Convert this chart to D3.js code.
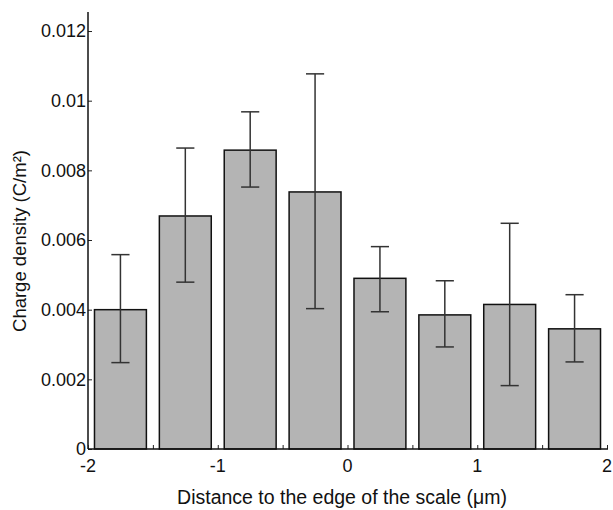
<!DOCTYPE html>
<html>
<head>
<meta charset="utf-8">
<script src="https://cdn.jsdelivr.net/npm/d3@7"></script>
<style>
  html, body { margin: 0; padding: 0; background: #fff; }
  svg { display: block; font-family: "Liberation Sans", Arial, sans-serif; }
</style>
</head>
<body>
<svg id="chart" width="613" height="510"></svg>
<script>
// Bin centres along the distance axis (µm)
const binCenters = [-1.75, -1.25, -0.75, -0.25, 0.25, 0.75, 1.25, 1.75];
// Mean charge density per bin (C/m²)
const chargeMean = [0.0040, 0.00669, 0.00858, 0.00738, 0.00490, 0.00385, 0.00415, 0.00345];
// Error bar extents (C/m²)
const errLow  = [0.00248, 0.00479, 0.00752, 0.00403, 0.00394, 0.00293, 0.00182, 0.00250];
const errHigh = [0.00558, 0.00864, 0.00968, 0.01077, 0.00581, 0.00483, 0.00648, 0.00443];
// Axis ticks
const yTickValues = [0, 0.002, 0.004, 0.006, 0.008, 0.01, 0.012];
const yTickLabels = ["0", "0.002", "0.004", "0.006", "0.008", "0.01", "0.012"];
const xMajorTicks = [-2, -1, 0, 1, 2];
const xMinorTicks = [-2, -1.5, -1, -0.5, 0, 0.5, 1, 1.5, 2];
const binWidth = 0.4;

const svg = d3.select("#chart");
const x = d3.scaleLinear().domain([-2, 2]).range([88, 607]);
const y = d3.scaleLinear().domain([0, 0.0125]).range([449, 13.6]);

const rows = binCenters.map((c, i) => ({ c, m: chargeMean[i], lo: errLow[i], hi: errHigh[i] }));

// Bars
svg.append("g").selectAll("rect").data(rows).join("rect")
  .attr("x", d => x(d.c - binWidth / 2))
  .attr("y", d => y(d.m))
  .attr("width", d => x(d.c + binWidth / 2) - x(d.c - binWidth / 2))
  .attr("height", d => y(0) - y(d.m))
  .attr("fill", "#b4b4b4")
  .attr("stroke", "#111")
  .attr("stroke-width", 1.5);

// Error bars
const eb = svg.append("g").attr("stroke", "#333").attr("stroke-width", 1.5);
eb.selectAll("line.v").data(rows).join("line").attr("class", "v")
  .attr("x1", d => x(d.c)).attr("x2", d => x(d.c))
  .attr("y1", d => y(d.lo)).attr("y2", d => y(d.hi));
const capHalf = 0.07;
eb.selectAll("line.top").data(rows).join("line").attr("class", "top")
  .attr("x1", d => x(d.c - capHalf)).attr("x2", d => x(d.c + capHalf))
  .attr("y1", d => y(d.hi)).attr("y2", d => y(d.hi));
eb.selectAll("line.bot").data(rows).join("line").attr("class", "bot")
  .attr("x1", d => x(d.c - capHalf)).attr("x2", d => x(d.c + capHalf))
  .attr("y1", d => y(d.lo)).attr("y2", d => y(d.lo));

// Y axis
const yAxis = d3.axisRight(y).tickValues(yTickValues).tickSize(4).tickFormat("");
const gy = svg.append("g").attr("transform", `translate(${x(-2)},0)`).call(yAxis);
gy.select(".domain").remove();
gy.selectAll(".tick line").attr("stroke", "#222").attr("stroke-width", 1);
svg.append("line")
  .attr("x1", x(-2)).attr("x2", x(-2))
  .attr("y1", 12).attr("y2", y(0))
  .attr("stroke", "#111").attr("stroke-width", 1.5);
svg.append("g").selectAll("text").data(yTickValues).join("text")
  .attr("x", x(-2) - 2)
  .attr("y", d => y(d))
  .attr("dy", "0.35em")
  .attr("text-anchor", "end")
  .attr("font-size", 18)
  .attr("fill", "#111")
  .text((d, i) => yTickLabels[i]);

// X axis
const xAxis = d3.axisTop(x).tickValues(xMinorTicks).tickSize(4).tickFormat("");
const gx = svg.append("g").attr("transform", `translate(0,${y(0)})`).call(xAxis);
gx.select(".domain").remove();
gx.selectAll(".tick line").attr("stroke", "#222").attr("stroke-width", 1);
svg.append("line")
  .attr("x1", x(-2)).attr("x2", x(2) + 1)
  .attr("y1", y(0)).attr("y2", y(0))
  .attr("stroke", "#111").attr("stroke-width", 1.5);
svg.append("g").selectAll("text").data(xMajorTicks).join("text")
  .attr("x", d => x(d))
  .attr("y", y(0) + 23)
  .attr("text-anchor", "middle")
  .attr("font-size", 18)
  .attr("fill", "#111")
  .text(d => d);

// Axis titles
svg.append("text")
  .attr("x", 342).attr("y", 504)
  .attr("text-anchor", "middle")
  .attr("font-size", 19.5)
  .attr("fill", "#111")
  .text("Distance to the edge of the scale (μm)");
svg.append("text")
  .attr("transform", "translate(26,241) rotate(-90)")
  .attr("text-anchor", "middle")
  .attr("font-size", 18.5)
  .attr("fill", "#111")
  .text("Charge density (C/m²)");
</script>
</body>
</html>
